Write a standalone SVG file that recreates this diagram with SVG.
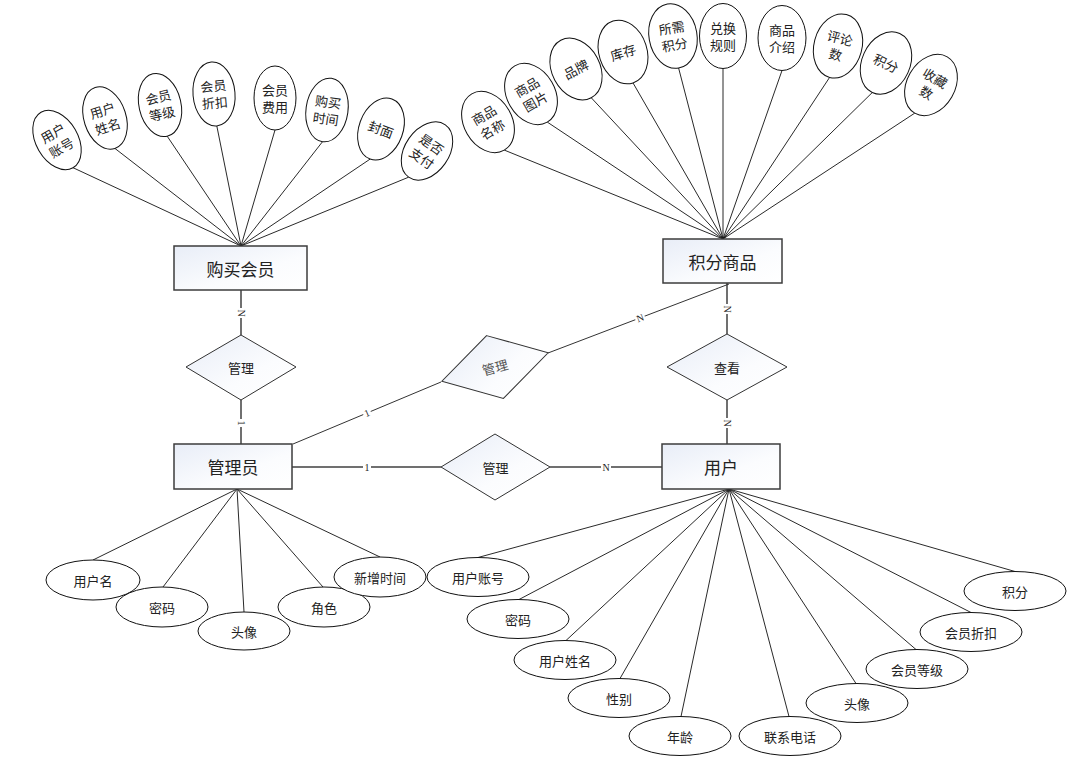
<svg xmlns="http://www.w3.org/2000/svg" width="1082" height="772" viewBox="0 0 1082 772">
<defs>
<linearGradient id="g" x1="0" y1="0" x2="1" y2="1">
<stop offset="0" stop-color="#e8edf7"/>
<stop offset="0.6" stop-color="#fbfcfe"/>
<stop offset="1" stop-color="#ffffff"/>
</linearGradient>
</defs>
<style>
text{font-family:"Noto Sans CJK SC","Noto Sans",sans-serif;fill:#222;text-anchor:middle;dominant-baseline:central}
.ent rect{fill:url(#g);stroke:#3c3c3c;stroke-width:1.5}
.ent text{font-size:17px}
.rel polygon{fill:url(#g);stroke:#333;stroke-width:1}
.rel text{font-size:13px}
.attr ellipse{fill:#fff;stroke:#111;stroke-width:1}
.attr text{font-size:13px}
.al{stroke:#111;stroke-width:0.9}
.rl{stroke:#707070;stroke-width:2}
.ol{stroke:#333;stroke-width:1}
.lb{fill:#fff;stroke:none}
.lt{font-family:"Liberation Serif",serif;font-size:10px;fill:#222}
</style>
<rect width="1082" height="772" fill="#fff"/>
<g id="connectors">
<line class="al" x1="73" y1="167.7" x2="241" y2="246"/>
<line class="al" x1="114.9" y1="148.4" x2="241" y2="246"/>
<line class="al" x1="167.2" y1="136.2" x2="241" y2="246"/>
<line class="al" x1="216.8" y1="125.9" x2="241" y2="246"/>
<line class="al" x1="275" y1="130" x2="241" y2="246"/>
<line class="al" x1="322.5" y1="141.7" x2="241" y2="246"/>
<line class="al" x1="370.1" y1="159.1" x2="241" y2="246"/>
<line class="al" x1="408.6" y1="177.2" x2="241" y2="246"/>
<line class="al" x1="504.3" y1="150.1" x2="723" y2="239"/>
<line class="al" x1="547.3" y1="122.1" x2="723" y2="239"/>
<line class="al" x1="591.2" y1="97.7" x2="723" y2="239"/>
<line class="al" x1="633" y1="82.9" x2="723" y2="239"/>
<line class="al" x1="678.6" y1="68" x2="723" y2="239"/>
<line class="al" x1="723" y1="68.5" x2="723" y2="239"/>
<line class="al" x1="782" y1="70.5" x2="723" y2="239"/>
<line class="al" x1="829.6" y1="77.4" x2="723" y2="239"/>
<line class="al" x1="872.3" y1="92.5" x2="723" y2="239"/>
<line class="al" x1="914.8" y1="113.1" x2="723" y2="239"/>
<line class="al" x1="93" y1="560" x2="237" y2="489"/>
<line class="al" x1="163" y1="587" x2="237" y2="489"/>
<line class="al" x1="244" y1="612" x2="237" y2="489"/>
<line class="al" x1="323" y1="587" x2="237" y2="489"/>
<line class="al" x1="380" y1="557" x2="237" y2="489"/>
<line class="al" x1="478" y1="557.5" x2="729" y2="489"/>
<line class="al" x1="519" y1="599.5" x2="729" y2="489"/>
<line class="al" x1="566" y1="640.5" x2="729" y2="489"/>
<line class="al" x1="620" y1="678.5" x2="729" y2="489"/>
<line class="al" x1="681" y1="716.5" x2="729" y2="489"/>
<line class="al" x1="789" y1="716.5" x2="729" y2="489"/>
<line class="al" x1="856" y1="683.5" x2="729" y2="489"/>
<line class="al" x1="916" y1="649.5" x2="729" y2="489"/>
<line class="al" x1="971" y1="612.5" x2="729" y2="489"/>
<line class="al" x1="1015" y1="571.5" x2="729" y2="489"/>
<line class="rl" x1="241" y1="290" x2="241" y2="335"/>
<line class="rl" x1="241" y1="400" x2="241" y2="444"/>
<line class="rl" x1="727" y1="283" x2="727" y2="334"/>
<line class="rl" x1="727" y1="400" x2="727" y2="444"/>
<line class="rl" x1="292" y1="467" x2="441" y2="467"/>
<line class="rl" x1="550" y1="467" x2="662" y2="467"/>
<line class="ol" x1="293" y1="444" x2="441" y2="382"/>
<line class="ol" x1="548" y1="353" x2="729" y2="284"/>
<g transform="translate(241,313) rotate(90)"><rect class="lb" x="-5" y="-5" width="10" height="10"/><text class="lt">N</text></g>
<g transform="translate(241,423) rotate(90)"><rect class="lb" x="-4" y="-5" width="8" height="10"/><text class="lt">1</text></g>
<g transform="translate(727,309) rotate(90)"><rect class="lb" x="-5" y="-5" width="10" height="10"/><text class="lt">N</text></g>
<g transform="translate(727,423) rotate(90)"><rect class="lb" x="-5" y="-5" width="10" height="10"/><text class="lt">N</text></g>
<g transform="translate(367,467)"><rect class="lb" x="-4" y="-5" width="8" height="10"/><text class="lt">1</text></g>
<g transform="translate(606,467)"><rect class="lb" x="-5" y="-5" width="10" height="10"/><text class="lt">N</text></g>
<g transform="translate(367,413) rotate(-22.7)"><rect class="lb" x="-4" y="-5" width="8" height="10"/><text class="lt">1</text></g>
<g transform="translate(640,318) rotate(-20.9)"><rect class="lb" x="-5" y="-5" width="10" height="10"/><text class="lt">N</text></g>
</g>

<g id="e-buy" class="ent"><rect x="174" y="246" width="133" height="44"/><text x="240.5" y="268">购买会员</text></g>
<g id="e-goods" class="ent"><rect x="663" y="239" width="119" height="44"/><text x="722.5" y="261">积分商品</text></g>
<g id="e-admin" class="ent"><rect x="174" y="444" width="118" height="45"/><text x="233" y="466.5">管理员</text></g>
<g id="e-user" class="ent"><rect x="662" y="444" width="118" height="45"/><text x="721" y="466.5">用户</text></g>

<g id="r-manage1" class="rel"><polygon points="241,335 296,367 241,400 186,367"/><text x="241" y="367.5">管理</text></g>
<g id="r-view" class="rel"><polygon points="727,334 787,367 727,400 667,367"/><text x="727" y="367.5">查看</text></g>
<g id="r-manage3" class="rel"><polygon points="495,434 550,467 495,500 441,467"/><text x="495.5" y="467">管理</text></g>
<g id="r-manage2" class="rel" transform="translate(495,367) rotate(-15)"><polygon points="0,-32.5 55,0 0,32.5 -55,0"/><text x="0" y="0" style="fill:#555">管理</text></g>

<g id="a-b1" class="attr" transform="translate(57,140) rotate(-30)"><ellipse rx="21" ry="32"/><text y="-8.5">用户</text><text y="8.5">账号</text></g>
<g id="a-b2" class="attr" transform="translate(105,118) rotate(-18)"><ellipse rx="21" ry="32"/><text y="-8.5">用户</text><text y="8.5">姓名</text></g>
<g id="a-b3" class="attr" transform="translate(160,105) rotate(-13)"><ellipse rx="21" ry="32"/><text y="-8.5">会员</text><text y="8.5">等级</text></g>
<g id="a-b4" class="attr" transform="translate(214,94) rotate(-5)"><ellipse rx="21" ry="32"/><text y="-8.5">会员</text><text y="8.5">折扣</text></g>
<g id="a-b5" class="attr" transform="translate(275,98)"><ellipse rx="21" ry="32"/><text y="-8.5">会员</text><text y="8.5">费用</text></g>
<g id="a-b6" class="attr" transform="translate(327,110) rotate(8)"><ellipse rx="21" ry="32"/><text y="-8.5">购买</text><text y="8.5">时间</text></g>
<g id="a-b7" class="attr" transform="translate(381,129) rotate(20)"><ellipse rx="22" ry="32"/><text y="0">封面</text></g>
<g id="a-b8" class="attr" transform="translate(427,151) rotate(35)"><ellipse rx="22" ry="32"/><text y="-8.5">是否</text><text y="8.5">支付</text></g>

<g id="a-g1" class="attr" transform="translate(488,122) rotate(-30)"><ellipse rx="24" ry="32.5"/><text y="-8.5">商品</text><text y="8.5">名称</text></g>
<g id="a-g2" class="attr" transform="translate(531,94) rotate(-30)"><ellipse rx="24" ry="32.5"/><text y="-8.5">商品</text><text y="8.5">图片</text></g>
<g id="a-g3" class="attr" transform="translate(576,69) rotate(-28)"><ellipse rx="24" ry="32.5"/><text y="0">品牌</text></g>
<g id="a-g4" class="attr" transform="translate(623,52) rotate(-18)"><ellipse rx="24" ry="32.5"/><text y="0">库存</text></g>
<g id="a-g5" class="attr" transform="translate(673,36) rotate(-10)"><ellipse rx="24" ry="32.5"/><text y="-8.5">所需</text><text y="8.5">积分</text></g>
<g id="a-g6" class="attr" transform="translate(723,36)"><ellipse rx="23.5" ry="32.5"/><text y="-8.5">兑换</text><text y="8.5">规则</text></g>
<g id="a-g7" class="attr" transform="translate(782,38)"><ellipse rx="24" ry="32.5"/><text y="-8.5">商品</text><text y="8.5">介绍</text></g>
<g id="a-g8" class="attr" transform="translate(838,46) rotate(15)"><ellipse rx="24" ry="32.5"/><text y="-8.5">评论</text><text y="8.5">数</text></g>
<g id="a-g9" class="attr" transform="translate(886,63) rotate(25)"><ellipse rx="24" ry="32.5"/><text y="0">积分</text></g>
<g id="a-g10" class="attr" transform="translate(931,85) rotate(30)"><ellipse rx="24" ry="32.5"/><text y="-8.5">收藏</text><text y="8.5">数</text></g>

<g id="a-m1" class="attr"><ellipse cx="93" cy="580" rx="47" ry="20"/><text x="93" y="580">用户名</text></g>
<g id="a-m2" class="attr"><ellipse cx="162" cy="607" rx="46" ry="20"/><text x="162" y="607">密码</text></g>
<g id="a-m3" class="attr"><ellipse cx="244" cy="631" rx="46" ry="19"/><text x="244" y="631">头像</text></g>
<g id="a-m4" class="attr"><ellipse cx="324" cy="607" rx="46" ry="20"/><text x="324" y="607">角色</text></g>
<g id="a-m5" class="attr"><ellipse cx="380" cy="577" rx="46" ry="20"/><text x="380" y="577">新增时间</text></g>

<g id="a-u1" class="attr"><ellipse cx="478" cy="577" rx="51" ry="19.5"/><text x="478" y="577">用户账号</text></g>
<g id="a-u2" class="attr"><ellipse cx="518" cy="619" rx="51" ry="19.5"/><text x="518" y="619">密码</text></g>
<g id="a-u3" class="attr"><ellipse cx="565" cy="660" rx="51" ry="19.5"/><text x="565" y="660">用户姓名</text></g>
<g id="a-u4" class="attr"><ellipse cx="619" cy="698" rx="51" ry="19.5"/><text x="619" y="698">性别</text></g>
<g id="a-u5" class="attr"><ellipse cx="680" cy="736" rx="51" ry="19.5"/><text x="680" y="736">年龄</text></g>
<g id="a-u6" class="attr"><ellipse cx="790" cy="736" rx="51" ry="19.5"/><text x="790" y="736">联系电话</text></g>
<g id="a-u7" class="attr"><ellipse cx="857" cy="703" rx="51" ry="19.5"/><text x="857" y="703">头像</text></g>
<g id="a-u8" class="attr"><ellipse cx="917" cy="669" rx="51" ry="19.5"/><text x="917" y="669">会员等级</text></g>
<g id="a-u9" class="attr"><ellipse cx="971" cy="632" rx="51" ry="19.5"/><text x="971" y="632">会员折扣</text></g>
<g id="a-u10" class="attr"><ellipse cx="1015" cy="591" rx="51" ry="19.5"/><text x="1015" y="591">积分</text></g>
</svg>
